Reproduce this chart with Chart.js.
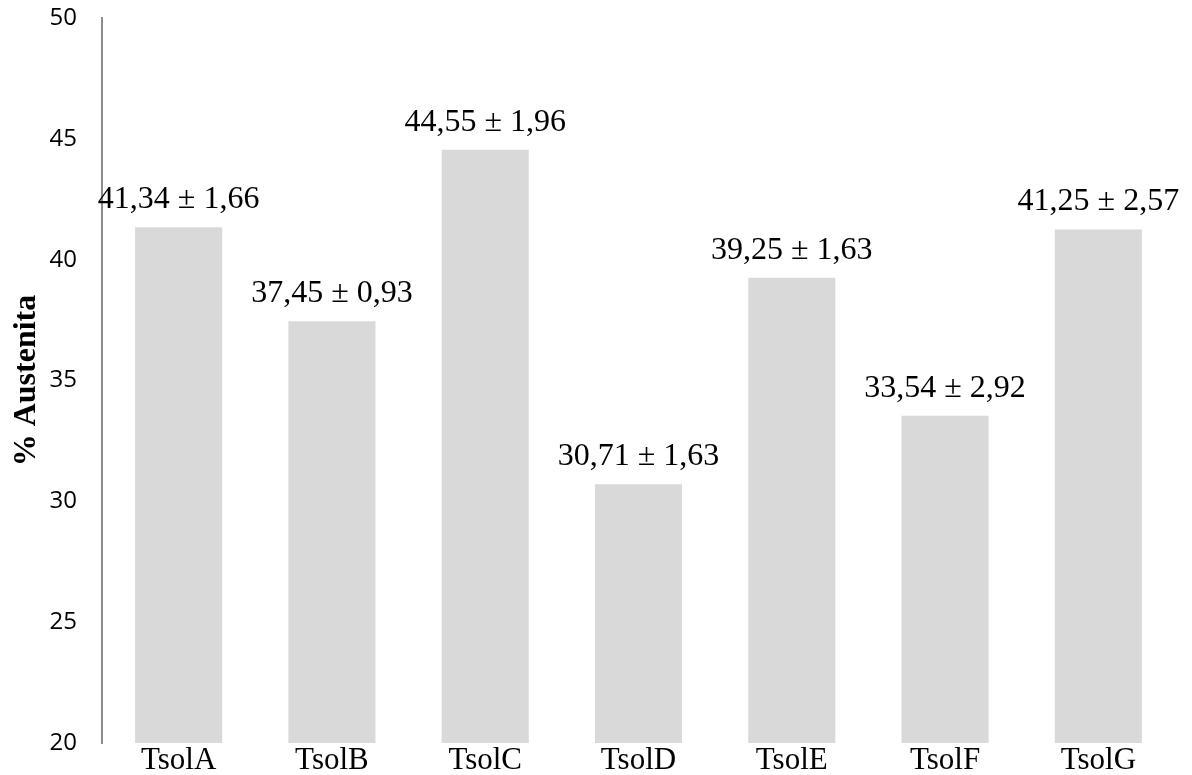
<!DOCTYPE html>
<html>
<head>
<meta charset="utf-8">
<script src="https://cdn.jsdelivr.net/npm/chart.js@4.4.1/dist/chart.umd.min.js"></script>
<style>
  html, body { margin: 0; padding: 0; background: #fff; }
  #wrap { width: 1192px; height: 775px; }
</style>
</head>
<body>
<div id="wrap"><canvas id="austenita-chart"></canvas></div>
<script>
// muestras y porcentaje de austenita (media ± desviacion)
var samples = ["TsolA", "TsolB", "TsolC", "TsolD", "TsolE", "TsolF", "TsolG"];
var austenite = [41.34, 37.45, 44.55, 30.71, 39.25, 33.54, 41.25];
var deviation = [1.66, 0.93, 1.96, 1.63, 1.63, 2.92, 2.57];
var yTicks = [20, 25, 30, 35, 40, 45, 50];

function fmt(v) {
  return v.toFixed(2).replace(".", ",");
}

// dibuja "media ± desv" encima de cada barra
var valueLabels = {
  id: "valueLabels",
  afterDatasetsDraw: function (chart) {
    var ctx = chart.ctx;
    var meta = chart.getDatasetMeta(0);
    ctx.save();
    ctx.font = "32px 'Liberation Serif'";
    ctx.fillStyle = "#000";
    ctx.textAlign = "center";
    ctx.textBaseline = "alphabetic";
    meta.data.forEach(function (bar, i) {
      ctx.fillText(fmt(austenite[i]) + " \u00b1 " + fmt(deviation[i]), bar.x, bar.y - 19);
    });
    ctx.restore();
  },
};

var austChart = new Chart(document.getElementById("austenita-chart"), {
  type: "bar",
  data: {
    labels: samples,
    datasets: [
      {
        data: austenite,
        backgroundColor: "#d9d9d9",
        borderWidth: 0,
        categoryPercentage: 1,
        barPercentage: 0.568,
      },
    ],
  },
  options: {
    responsive: true,
    maintainAspectRatio: false,
    animation: false,
    layout: { padding: { top: 18, right: 17, left: 0, bottom: 0 } },
    plugins: {
      legend: { display: false },
      tooltip: { enabled: false },
    },
    scales: {
      x: {
        grid: { display: false },
        border: { display: false },
        ticks: {
          color: "#000",
          padding: -6,
          font: { family: "'Liberation Serif'", size: 31, lineHeight: 1 },
        },
        afterFit: function (scale) {
          scale.height = 32;
        },
      },
      y: {
        min: 20,
        max: 50,
        grid: { display: false, drawTicks: false },
        border: { display: true, color: "#8c8c8c", width: 2 },
        afterBuildTicks: function (scale) {
          scale.ticks = yTicks.map(function (v) {
            return { value: v };
          });
        },
        ticks: {
          color: "#000",
          padding: 25,
          font: { family: "'Open Sans'", size: 24 },
        },
        title: {
          display: true,
          text: "% Austenita",
          color: "#000",
          padding: { top: 8, bottom: 0 },
          font: { family: "'Liberation Serif'", size: 32, weight: "bold" },
        },
        afterFit: function (scale) {
          scale.width = 102;
          scale.paddingTop = 0;
          scale.paddingBottom = 0;
        },
      },
    },
  },
  plugins: [valueLabels],
});
</script>
</body>
</html>
